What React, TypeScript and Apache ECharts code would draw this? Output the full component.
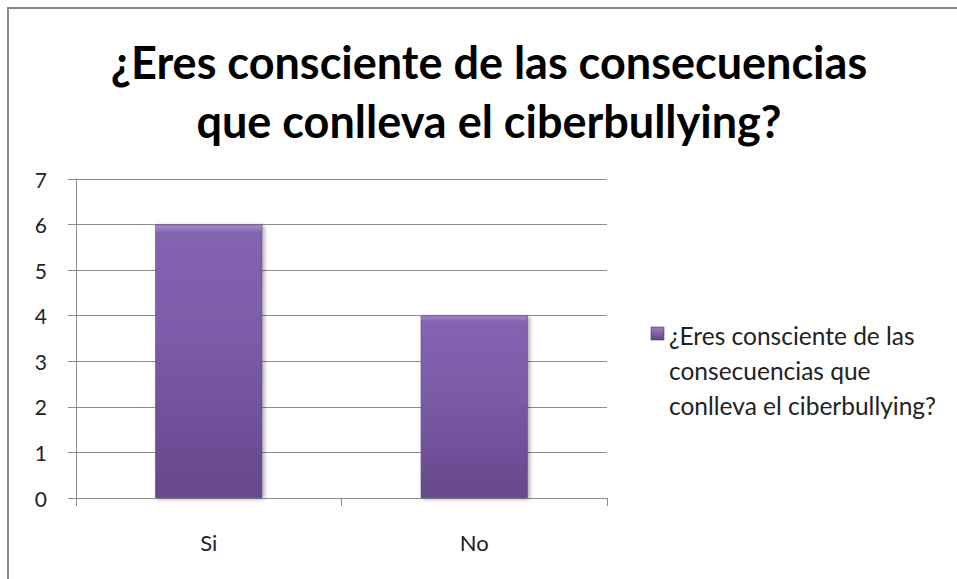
import React, { useEffect, useRef } from "react";
import * as echarts from "echarts";

const categories = ["Si", "No"];
const values = [6, 4];
const seriesName = "¿Eres consciente de las consecuencias que conlleva el ciberbullying?";
const titleLines = ["¿Eres consciente de las consecuencias", "que conlleva el ciberbullying?"];
const legendLines = ["¿Eres consciente de las", "consecuencias que", "conlleva el ciberbullying?"];
const yMin = 0;
const yMax = 7;
const yInterval = 1;

const FONT = "Lato, 'Open Sans', sans-serif";

export default function App() {
  const ref = useRef<HTMLDivElement>(null);
  useEffect(() => {
    if (!ref.current) return;
    const chart = echarts.init(ref.current, null, { renderer: "svg" });
    const barColor = new echarts.graphic.LinearGradient(0, 0, 0, 1, [
      { offset: 0, color: "#a88bd0" },
      { offset: 0.03, color: "#8464b0" },
      { offset: 0.4, color: "#7c5ca8" },
      { offset: 1, color: "#66488c" },
    ]);
    chart.setOption({
      animation: false,
      backgroundColor: "#ffffff",
      textStyle: { fontFamily: FONT },
      grid: { left: 76, top: 179, right: 350, bottom: 81, containLabel: false },
      xAxis: {
        type: "category",
        data: categories,
        axisLine: { show: true, lineStyle: { color: "#8c8c8c", width: 1 } },
        axisTick: { show: true, length: 8, alignWithLabel: false, lineStyle: { color: "#8c8c8c" } },
        axisLabel: { margin: 33, fontSize: 22, color: "#222", fontFamily: FONT },
        splitLine: { show: false },
      },
      yAxis: {
        type: "value",
        min: yMin,
        max: yMax,
        interval: yInterval,
        axisLine: { show: true, lineStyle: { color: "#8c8c8c", width: 1 } },
        axisTick: { show: true, length: 8, lineStyle: { color: "#8c8c8c" } },
        axisLabel: { margin: 29, fontSize: 21, color: "#222", fontFamily: FONT },
        splitLine: { show: true, lineStyle: { color: "#8c8c8c", width: 1 } },
      },
      series: [
        {
          type: "bar",
          name: seriesName,
          data: values,
          barWidth: 107,
          itemStyle: {
            color: barColor,
            borderColor: "#5e4380",
            borderWidth: 0.6,
            shadowColor: "rgba(0,0,0,0.35)",
            shadowBlur: 4,
            shadowOffsetX: 2,
            shadowOffsetY: 1,
          },
        },
      ],
      graphic: [
        {
          type: "rect",
          shape: { x: 8, y: 8, width: 1200, height: 1200 },
          style: { fill: "none", stroke: "#888888", lineWidth: 2 },
          silent: true,
          z: 100,
        },
        {
          type: "text",
          x: 489,
          y: 62,
          style: {
            text: titleLines[0],
            font: `bold 45px ${FONT}`,
            fill: "#000",
            align: "center",
            verticalAlign: "middle",
          },
        },
        {
          type: "text",
          x: 489,
          y: 121,
          style: {
            text: titleLines[1],
            font: `bold 45px ${FONT}`,
            fill: "#000",
            align: "center",
            verticalAlign: "middle",
          },
        },
        {
          type: "rect",
          shape: { x: 651, y: 327, width: 13, height: 13 },
          style: {
            fill: new echarts.graphic.LinearGradient(0, 0, 0, 1, [
              { offset: 0, color: "#9a7cc4" },
              { offset: 1, color: "#5f4482" },
            ]),
            stroke: "#4e3870",
            lineWidth: 0.6,
          },
        },
        ...legendLines.map((t, i) => ({
          type: "text",
          x: 669,
          y: 335 + i * 35,
          style: {
            text: t,
            font: `24.5px ${FONT}`,
            fill: "#222",
            align: "left",
            verticalAlign: "middle",
          },
        })),
      ],
    });
    return () => chart.dispose();
  }, []);
  return (
    <div
      ref={ref}
      style={{ position: "absolute", left: 0, top: 0, width: 957, height: 579 }}
    />
  );
}
